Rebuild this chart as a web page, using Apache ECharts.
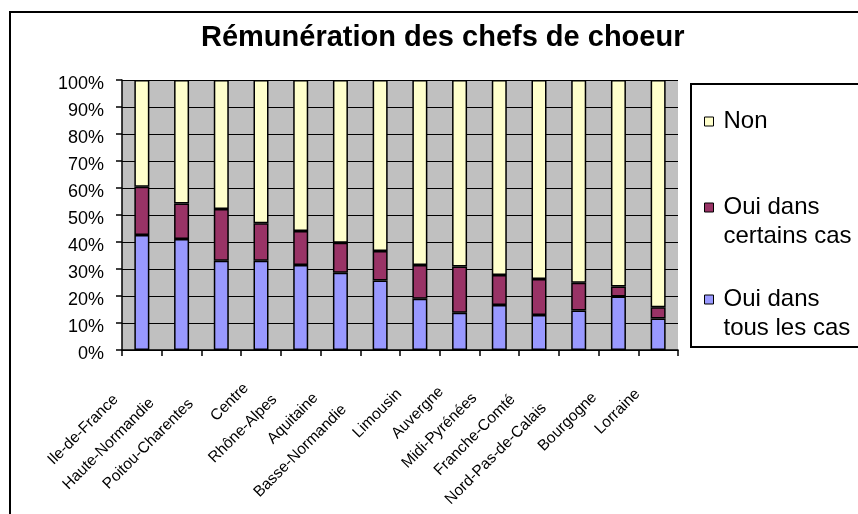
<!DOCTYPE html>
<html>
<head>
<meta charset="utf-8">
<script src="https://cdn.jsdelivr.net/npm/echarts@6/dist/echarts.min.js"></script>
<style>html,body{margin:0;padding:0;background:#fff;}#chart{width:858px;height:514px;}</style>
</head>
<body>
<div id="chart"></div>
<script>
const categories = ['Ile-de-France','Haute-Normandie','Poitou-Charentes','Centre','Rhône-Alpes','Aquitaine','Basse-Normandie','Limousin','Auvergne','Midi-Pyrénées','Franche-Comté','Nord-Pas-de-Calais','Bourgogne','Lorraine'];
const ouiTous     = [42.6, 41.1, 33.1, 33.1, 31.5, 28.6, 25.7, 19.0, 13.8, 16.7, 13.0, 14.6, 19.8, 11.7];
const ouiCertains = [17.9, 13.2, 19.1, 13.8, 12.6, 11.1, 11.0, 12.5, 17.1, 11.1, 13.3, 10.3, 3.7, 4.1];
const non         = [39.5, 45.7, 47.8, 53.1, 55.9, 60.3, 63.3, 68.5, 69.1, 72.2, 73.7, 75.1, 76.5, 84.2];
const yTicks = [0,10,20,30,40,50,60,70,80,90,100];
const seriesNames = ['Oui dans tous les cas','Oui dans certains cas','Non'];
const legendText = {'Non':'Non','Oui dans certains cas':'\nOui dans\ncertains cas','Oui dans tous les cas':'\nOui dans\ntous les cas'};
// label shift along the rotated text direction (styling only)
const labelShift = [37,42,43,21,37,35,51,29,26,35,37,49,34,29];

function fontAvailable(name){
  const c = document.createElement('canvas').getContext('2d');
  c.font = '40px monospace';
  const a = c.measureText('Haute-Normandie').width;
  c.font = '40px "' + name + '", monospace';
  return c.measureText('Haute-Normandie').width !== a;
}
const narrow = fontAvailable('Liberation Sans Narrow');
const xFont = narrow ? '"Liberation Sans Narrow", Arial' : 'Arial';
const xSize = narrow ? 19 : 15.5;

const colors = ['#9999FF','#993366','#FFFFCC'];
const chart = echarts.init(document.getElementById('chart'), null, {renderer:'canvas'});

const xData = categories.map((c,i)=>({value:c, textStyle:{padding:[0,labelShift[i],0,0]}}));

const mkSeries = (name, data, color) => ({
  name, type:'bar', stack:'total', data, barWidth:15,
  itemStyle:{color, borderColor:'#000', borderWidth:1.5},
  emphasis:{disabled:true}, animation:false
});

const legendCommon = {
  orient:'vertical', left:704, padding:0, itemWidth:9, itemHeight:9, icon:'rect',
  selectedMode:false,
  itemStyle:{borderColor:'#000', borderWidth:1},
  textStyle:{fontFamily:'Arial', fontSize:24, lineHeight:29, color:'#000', padding:[0,0,0,5]},
  formatter: n => legendText[n]
};

chart.setOption({
  animation:false,
  backgroundColor:'#fff',
  title:{text:'Rémunération des chefs de choeur', left:201, top:23, padding:0,
    textStyle:{fontFamily:'Arial', fontWeight:'bold', fontSize:29, lineHeight:29, color:'#000'}},
  graphic:[
    {type:'rect', z:0, shape:{x:10, y:12, width:1000, height:1000}, style:{fill:'none', stroke:'#000', lineWidth:2}},
    {type:'rect', z:0, shape:{x:691, y:84, width:300, height:263}, style:{fill:'#fff', stroke:'#000', lineWidth:2}}
  ],
  legend:[
    Object.assign({}, legendCommon, {top:107, data:[{name:'Non'}]}),
    Object.assign({}, legendCommon, {top:164, data:[{name:'Oui dans certains cas'}]}),
    Object.assign({}, legendCommon, {top:256, data:[{name:'Oui dans tous les cas'}]})
  ],
  grid:{left:122, top:80, width:556, height:270, show:true, backgroundColor:'#C0C0C0', borderWidth:0, containLabel:false, outerBoundsMode:'none'},
  xAxis:{
    type:'category', data:xData,
    axisLine:{show:true, lineStyle:{color:'#000', width:1.5}},
    axisTick:{show:true, length:6, lineStyle:{color:'#000', width:1.5}},
    axisLabel:{interval:0, rotate:45, margin:21, color:'#000', fontFamily:xFont, fontSize:xSize},
    splitLine:{show:false}
  },
  yAxis:{
    type:'value', min:0, max:100, interval:10,
    axisLine:{show:true, lineStyle:{color:'#000', width:1.5}},
    axisTick:{show:true, length:6, lineStyle:{color:'#000', width:1.5}},
    axisLabel:{margin:18, color:'#000', fontFamily:'Arial', fontSize:18, verticalAlign:'top', lineHeight:8,
      formatter: v => (yTicks.indexOf(v) >= 0 ? v + '%' : '')},
    splitLine:{show:true, lineStyle:{color:'#000', width:1}}
  },
  series:[
    mkSeries(seriesNames[0], ouiTous, colors[0]),
    mkSeries(seriesNames[1], ouiCertains, colors[1]),
    mkSeries(seriesNames[2], non, colors[2])
  ]
});
</script>
</body>
</html>
